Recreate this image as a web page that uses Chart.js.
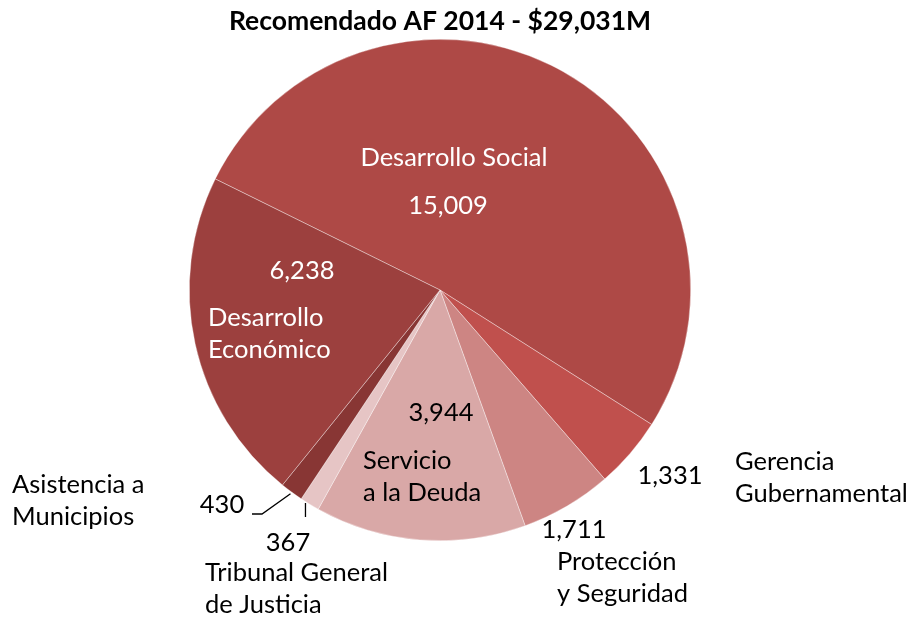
<!DOCTYPE html>
<html>
<head>
<meta charset="utf-8">
<script src="https://cdn.jsdelivr.net/npm/chart.js@4.4.0/dist/chart.umd.min.js"></script>
<style>
  html, body { margin: 0; padding: 0; background: #fff; }
  #wrap { width: 918px; height: 619px; position: relative; }
</style>
</head>
<body>
<div id="wrap"><canvas id="pieChart" width="918" height="619"></canvas></div>
<script>
const chartTitle = 'Recomendado AF 2014 - $29,031M';
const categories = [
  ['Desarrollo Social'],
  ['Gerencia', 'Gubernamental'],
  ['Protección', 'y Seguridad'],
  ['Servicio', 'a la Deuda'],
  ['Tribunal General', 'de Justicia'],
  ['Asistencia a', 'Municipios'],
  ['Desarrollo', 'Económico']
];
const values = [15009, 1331, 1711, 3944, 367, 430, 6238];
const sliceColors = ['#AE4946', '#C0504D', '#CD8583', '#D9A8A7', '#E6C5C5', '#883634', '#9C403E'];

const fontFamily = 'Lato, "Open Sans", sans-serif';

// label placement, offsets from pie centre (px); value line and name lines
const labelSpots = [
  { val: [8, -84, 'center'], name: [14, -132, 'center'], color: '#fff' },
  { val: [230, 186, 'center'], name: [295, 172, 'left'], color: '#000' },
  { val: [134, 240, 'center'], name: [117, 272, 'left'], color: '#000' },
  { val: [1, 123, 'center'], name: [-77, 171, 'left'], color: '#000' },
  { val: [-152, 253, 'center'], name: [-235, 283, 'left'], color: '#000' },
  { val: [-218, 215, 'center'], name: [-428, 195, 'left'], color: '#000' },
  { val: [-138, -19, 'center'], name: [-232, 28, 'left'], color: '#fff' }
];

const labelPlugin = {
  id: 'pieLabels',
  afterDraw(chart) {
    const ctx = chart.ctx;
    const arc = chart.getDatasetMeta(0).data[0];
    const cx = arc.x, cy = arc.y;
    ctx.save();
    ctx.textBaseline = 'middle';
    // title
    ctx.fillStyle = '#000';
    ctx.font = 'bold 26.5px ' + fontFamily;
    ctx.textAlign = 'center';
    ctx.fillText(chartTitle, cx, 21);

    ctx.font = '25.5px ' + fontFamily;
    values.forEach((v, i) => {
      const s = labelSpots[i];
      ctx.fillStyle = s.color;
      ctx.textAlign = s.val[2];
      ctx.fillText(v.toLocaleString('en-US'), cx + s.val[0], cy + s.val[1]);
      ctx.textAlign = s.name[2];
      categories[i].forEach((line, j) => {
        ctx.fillText(line, cx + s.name[0], cy + s.name[1] + j * 32);
      });
    });

    // leader lines for the two thin slices
    const meta = chart.getDatasetMeta(0).data;
    ctx.strokeStyle = '#000';
    ctx.lineWidth = 1.3;
    const asis = meta[5];
    const aMid = (asis.startAngle + asis.endAngle) / 2;
    ctx.beginPath();
    ctx.moveTo(cx - 188, cy + 224);
    ctx.lineTo(cx - 178, cy + 224);
    ctx.lineTo(cx + Math.cos(aMid) * (asis.outerRadius + 2), cy + Math.sin(aMid) * (asis.outerRadius + 2));
    ctx.stroke();
    const trib = meta[4];
    const tMid = (trib.startAngle + trib.endAngle) / 2;
    const tx = cx + Math.cos(tMid) * (trib.outerRadius + 8);
    ctx.beginPath();
    ctx.moveTo(tx, cy + 213);
    ctx.lineTo(tx, cy + 227);
    ctx.stroke();
    ctx.restore();
  }
};

new Chart(document.getElementById('pieChart'), {
  type: 'pie',
  data: {
    labels: categories.map(c => c.join(' ')),
    datasets: [{
      data: values,
      backgroundColor: sliceColors,
      borderColor: 'rgba(255,255,255,0.6)',
      borderWidth: 0.6
    }]
  },
  options: {
    responsive: false,
    animation: false,
    rotation: -63.7,
    layout: { padding: { left: 189, right: 227, top: 39, bottom: 78 } },
    plugins: {
      legend: { display: false },
      tooltip: { enabled: false },
      title: { display: false }
    }
  },
  plugins: [labelPlugin]
});
</script>
</body>
</html>
